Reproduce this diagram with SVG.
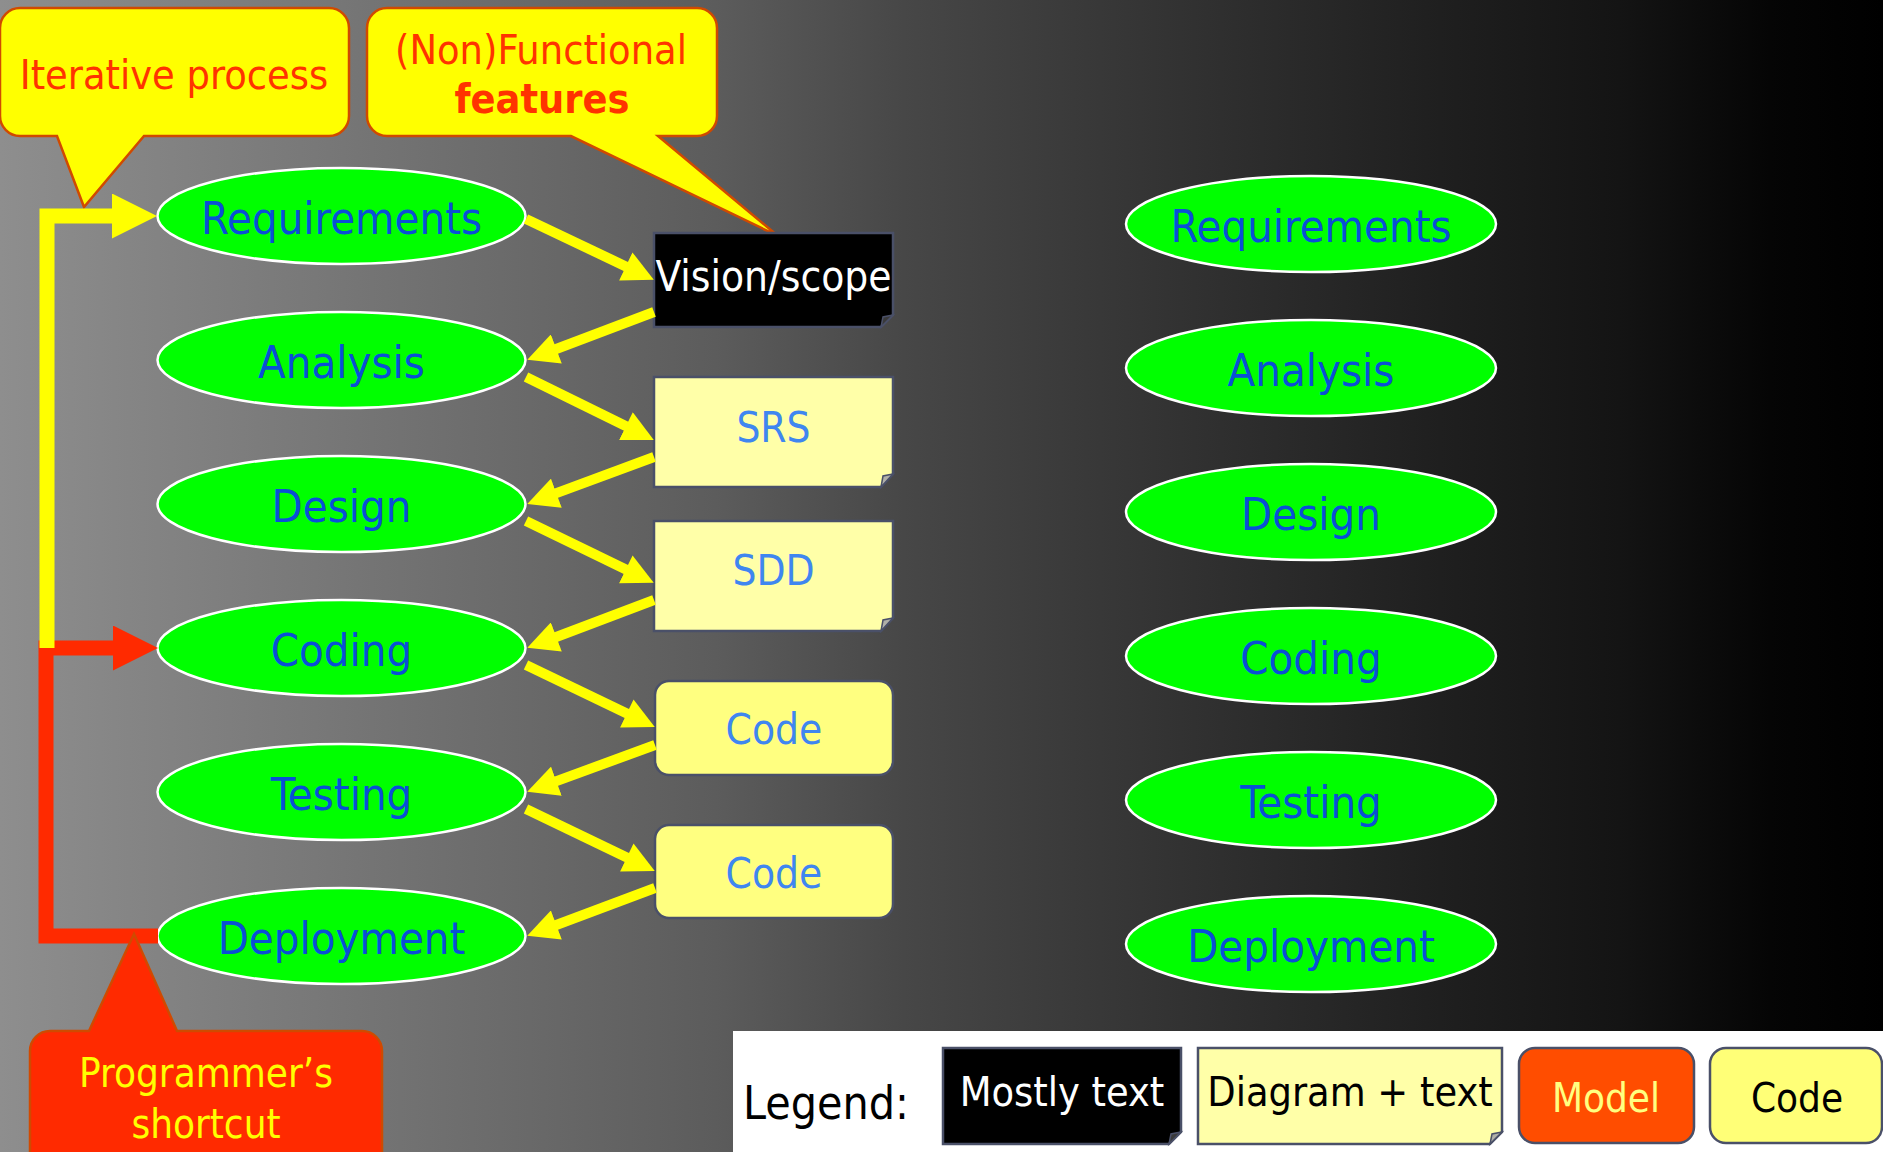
<svg xmlns="http://www.w3.org/2000/svg" width="1883" height="1152" viewBox="0 0 1883 1152">
<defs>
<linearGradient id="bg" x1="0" y1="0" x2="1" y2="0">
<stop offset="0" stop-color="#8e8e8e"/>
<stop offset="0.38" stop-color="#5c5c5c"/>
<stop offset="0.48" stop-color="#474747"/>
<stop offset="0.57" stop-color="#3a3a3a"/>
<stop offset="0.67" stop-color="#2c2c2c"/>
<stop offset="0.765" stop-color="#1f1f1f"/>
<stop offset="0.86" stop-color="#141414"/>
<stop offset="0.94" stop-color="#050505"/>
<stop offset="1" stop-color="#000000"/>
</linearGradient>
<marker id="ah" viewBox="0 0 10 10" refX="3" refY="5" markerWidth="3.15" markerHeight="3.1" orient="auto" markerUnits="strokeWidth">
<path d="M0,0 L10,5 L0,10 Z" fill="#ffff00"/>
</marker>
<marker id="ahY" viewBox="0 0 10 10" refX="5" refY="5" markerWidth="3" markerHeight="3" orient="auto" markerUnits="strokeWidth">
<path d="M0,0 L10,5 L0,10 Z" fill="#ffff00"/>
</marker>
<marker id="ahR" viewBox="0 0 10 10" refX="5" refY="5" markerWidth="3" markerHeight="3" orient="auto" markerUnits="strokeWidth">
<path d="M0,0 L10,5 L0,10 Z" fill="#ff2a00"/>
</marker>
</defs>
<style>
.t{font-family:"DejaVu Sans Condensed","DejaVu Sans",sans-serif;font-stretch:condensed;text-anchor:middle}
.ell{fill:#00ff00;stroke:#ffffff;stroke-width:2.5}
.el{font-size:45px;fill:#0a4fd6}
.doc{stroke:#4a5068;stroke-width:2.5}
.fold{stroke:#4a5068;stroke-width:1.5}
.bl{font-size:42px;fill:#3f86f0}
.con{fill:none;stroke:#ffff00;stroke-width:10;marker-end:url(#ah)}
.callY{fill:#ffff00;stroke:#d04a00;stroke-width:2.5}
.callR{fill:#ff2a00;stroke:#d04a00;stroke-width:2.5}
.ct{font-size:41px;fill:#ff3300}
.lg{font-size:41px}
</style>
<rect x="0" y="0" width="1883" height="1152" fill="url(#bg)"/>

<g id="callout-iterative">
<path class="callY" d="M20,8 H329 A20,20 0 0 1 349,28 V116 A20,20 0 0 1 329,136 H144 L84,207 L57,136 H20 A20,20 0 0 1 0,116 V28 A20,20 0 0 1 20,8 Z"/>
<text class="t ct" x="174" y="89">Iterative process</text>
</g>
<g id="callout-nonfunctional">
<path class="callY" d="M387,8 H697 A20,20 0 0 1 717,28 V116 A20,20 0 0 1 697,136 H658 L778,236 L571,136 H387 A20,20 0 0 1 367,116 V28 A20,20 0 0 1 387,8 Z"/>
<text class="t ct" x="541" y="64">(Non)Functional</text>
<text class="t ct" x="542" y="113" font-weight="bold">features</text>
</g>

<g id="left-requirements"><ellipse class="ell" cx="341.5" cy="216" rx="184" ry="48"/><text class="t el" x="341.5" y="234">Requirements</text></g>
<g id="left-analysis"><ellipse class="ell" cx="341.5" cy="360" rx="184" ry="48"/><text class="t el" x="341.5" y="378">Analysis</text></g>
<g id="left-design"><ellipse class="ell" cx="341.5" cy="504" rx="184" ry="48"/><text class="t el" x="341.5" y="522">Design</text></g>
<g id="left-coding"><ellipse class="ell" cx="341.5" cy="648" rx="184" ry="48"/><text class="t el" x="341.5" y="666">Coding</text></g>
<g id="left-testing"><ellipse class="ell" cx="341.5" cy="792" rx="184" ry="48"/><text class="t el" x="341.5" y="810">Testing</text></g>
<g id="left-deployment"><ellipse class="ell" cx="341.5" cy="936" rx="184" ry="48"/><text class="t el" x="341.5" y="954">Deployment</text></g>

<g id="right-requirements"><ellipse class="ell" cx="1311" cy="224" rx="185" ry="48"/><text class="t el" x="1311" y="242">Requirements</text></g>
<g id="right-analysis"><ellipse class="ell" cx="1311" cy="368" rx="185" ry="48"/><text class="t el" x="1311" y="386">Analysis</text></g>
<g id="right-design"><ellipse class="ell" cx="1311" cy="512" rx="185" ry="48"/><text class="t el" x="1311" y="530">Design</text></g>
<g id="right-coding"><ellipse class="ell" cx="1311" cy="656" rx="185" ry="48"/><text class="t el" x="1311" y="674">Coding</text></g>
<g id="right-testing"><ellipse class="ell" cx="1311" cy="800" rx="185" ry="48"/><text class="t el" x="1311" y="818">Testing</text></g>
<g id="right-deployment"><ellipse class="ell" cx="1311" cy="944" rx="185" ry="48"/><text class="t el" x="1311" y="962">Deployment</text></g>

<g id="vision">
<path class="doc" fill="#000000" d="M654,233 H893 V315 L881,327 H654 Z"/>
<path class="fold" fill="#3a3a3a" d="M893,315 L883,317 L881,327 Z"/>
<text class="t" x="773.5" y="291" font-size="42" fill="#ffffff">Vision/scope</text>
</g>
<g id="srs">
<path class="doc" fill="#ffffa8" d="M654,377 H893 V474 L881,487 H654 Z"/>
<path class="fold" fill="#b0b0a8" d="M893,474 L883,476 L881,487 Z"/>
<text class="t bl" x="773.5" y="442">SRS</text>
</g>
<g id="sdd">
<path class="doc" fill="#ffffa8" d="M654,521 H893 V618 L881,631 H654 Z"/>
<path class="fold" fill="#b0b0a8" d="M893,618 L883,620 L881,631 Z"/>
<text class="t bl" x="773.5" y="585">SDD</text>
</g>
<g id="code1">
<rect class="doc" fill="#ffff80" x="655" y="681" width="238" height="94" rx="14"/>
<text class="t bl" x="774" y="744" font-size="41">Code</text>
</g>
<g id="code2">
<rect class="doc" fill="#ffff80" x="655" y="825" width="238" height="93" rx="14"/>
<text class="t bl" x="774" y="888" font-size="41">Code</text>
</g>

<g id="connectors">
<path class="con" d="M526,219 L634.2,270.4"/>
<path class="con" d="M526,377 L634.3,430.3"/>
<path class="con" d="M526,521 L634.2,573.4"/>
<path class="con" d="M526,665 L635.2,717.5"/>
<path class="con" d="M526,809 L635.2,861.5"/>
<path class="con" d="M654,312 L547.6,352.2"/>
<path class="con" d="M654,457 L547.6,496.4"/>
<path class="con" d="M654,600 L547.6,640.2"/>
<path class="con" d="M655,745 L547.6,784.4"/>
<path class="con" d="M655,888 L547.6,928.2"/>
<path fill="none" stroke="#ff2a00" stroke-width="15" stroke-linejoin="miter" marker-end="url(#ahR)" d="M158,936 H46 V648 H135.5"/>
<path fill="none" stroke="#ffff00" stroke-width="15" stroke-linejoin="miter" marker-end="url(#ahY)" d="M47,648 V216 H134.5"/>
</g>

<g id="callout-shortcut">
<path class="callR" d="M50,1031 H89 L134,934 L177,1031 H362 A20,20 0 0 1 382,1051 V1170 H30 V1051 A20,20 0 0 1 50,1031 Z"/>
<text class="t" x="206" y="1087" font-size="40" fill="#ffff00">Programmer’s</text>
<text class="t" x="206" y="1138" font-size="40" fill="#ffff00">shortcut</text>
</g>

<g id="legend">
<rect x="733" y="1031" width="1160" height="130" fill="#ffffff"/>
<text class="t" x="826" y="1119" font-size="46" fill="#000000">Legend:</text>
<path class="doc" fill="#000000" d="M943,1048 H1181 V1132 L1169,1144 H943 Z"/>
<path class="fold" fill="#3a3a3a" d="M1181,1132 L1171,1134 L1169,1144 Z"/>
<text class="t lg" x="1062" y="1106" fill="#ffffff">Mostly text</text>
<path class="doc" fill="#ffffa8" d="M1198,1048 H1502 V1132 L1490,1144 H1198 Z"/>
<path class="fold" fill="#b0b0a8" d="M1502,1132 L1492,1134 L1490,1144 Z"/>
<text class="t lg" x="1350" y="1106" fill="#000000">Diagram + text</text>
<rect class="doc" fill="#ff4d00" x="1519" y="1048" width="175" height="95" rx="16"/>
<text class="t" x="1606" y="1112" font-size="40" fill="#ffff80">Model</text>
<rect class="doc" fill="#ffff77" x="1710" y="1048" width="172" height="95" rx="16"/>
<text class="t" x="1797" y="1112" font-size="40" fill="#000000">Code</text>
</g>
</svg>
